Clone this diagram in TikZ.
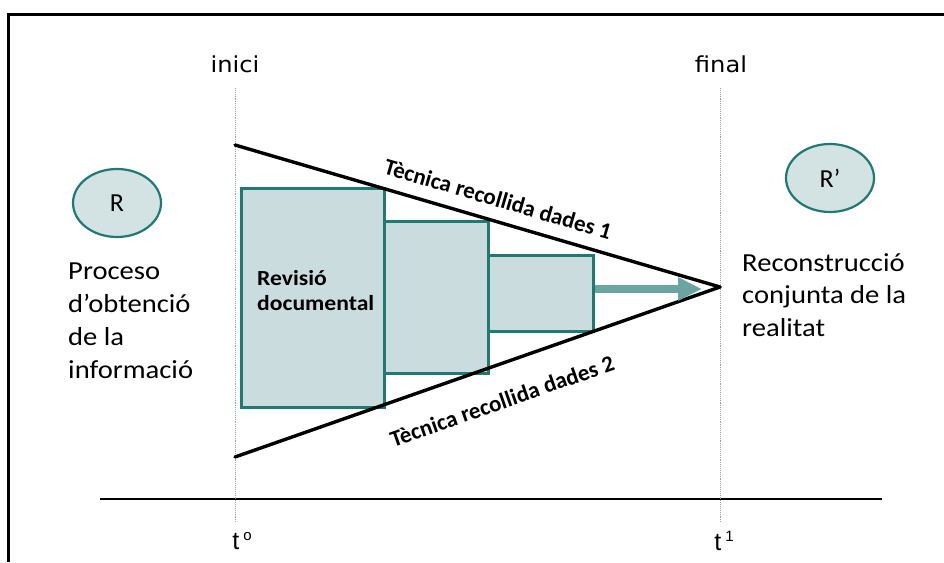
\documentclass[tikz,border=0pt]{standalone}
\usepackage{fontspec}
\setmainfont{Carlito}
\newfontfamily\dejavu{DejaVu Sans}
\newfontfamily\arialfont{Liberation Sans}
\usetikzlibrary{shapes.geometric,arrows.meta}
\definecolor{tealline}{HTML}{1E7A72}
\definecolor{boxfill}{HTML}{CBDCDF}
\definecolor{ovalfill}{HTML}{D3E2E3}
\definecolor{arrowcol}{HTML}{6CA4A2}
\begin{document}
\begin{tikzpicture}[x=1pt,y=-1pt,
  frame/.style={line width=3pt, black},
  timeline/.style={draw=gray!75, line width=0.9pt, densely dotted},
  axis/.style={line width=2.4pt, black},
  edge/.style={line width=3.4pt, black, line cap=round},
  stage/.style={draw=tealline, fill=boxfill, line width=2.6pt, inner sep=0pt, anchor=north west},
  oval/.style={ellipse, draw=tealline, fill=ovalfill, line width=2.2pt,
               minimum width=88pt, minimum height=68pt, inner sep=0pt,
               font=\fontsize{26}{26}\selectfont},
  bodytext/.style={align=left, inner sep=0pt, xscale=1.1},
  endlabel/.style={font=\dejavu\fontsize{22}{22}\selectfont, inner sep=0pt, xscale=1.1},
  timelabel/.style={font=\arialfont\fontsize{25}{25}\selectfont, inner sep=0pt},
  technique/.style={font=\bfseries\fontsize{23}{23}\selectfont, inner sep=0pt},
  flow/.style={arrowcol, line width=8pt, -{Triangle[length=24pt,width=22pt]}}
]
\useasboundingbox (0,0) rectangle (944,562);

% outer frame
\draw[frame] (944,14) -- (8,14) -- (8,562);

% time axis and the two reference instants
\coordinate (axl) at (100,499);
\coordinate (axr) at (882,499);
\draw[axis] (axl) -- (axr);

\coordinate (startTop) at (235,88);
\coordinate (startBot) at (235,523);
\coordinate (endTop) at (720,88);
\coordinate (endBot) at (720,523);
\draw[timeline] (startTop) -- (startBot);
\draw[timeline] (endTop) -- (endBot);

\node[endlabel] (inici) at (235,64) {inici};
\node[endlabel] (final) at (721,64) {final};
\node[timelabel] (t0) at (242,541) {t\hspace{4pt}\raisebox{9pt}{\fontsize{15}{15}\selectfont o}};
\node[timelabel] (t1) at (724,541) {t\hspace{4pt}\raisebox{9pt}{\fontsize{15}{15}\selectfont 1}};

% converging funnel
\coordinate (tl) at (235,145);
\coordinate (bl) at (235,457);
\coordinate (apex) at (720,287);

% stages of the information gathering
\node[stage, minimum width=143pt, minimum height=219pt] (s1) at (240,187) {};
\node[stage, minimum width=104pt, minimum height=152pt] (s2) at (383,220) {};
\node[stage, minimum width=105pt, minimum height=76pt] (s3) at (487,254) {};

\node[font=\bfseries\fontsize{21.5}{25}\selectfont, align=left, anchor=west, inner sep=0pt, xscale=1.1]
  (rev) at (257,291) {Revisió\\documental};

\draw[edge] (tl) -- (apex);
\draw[edge] (bl) -- (apex);
\node[technique, rotate=-16.3] (tec1) at (498,199) {Tècnica recollida dades 1};
\node[technique, rotate=19.3] (tec2) at (502,401) {Tècnica recollida dades 2};

\coordinate (tip) at (702,289);
\draw[flow] (s3.east |- tip) -- (tip);

% reality before and after
\node[oval] (R) at (117,203) {R};
\node[oval] (Rp) at (830,178) {R’};

\node[bodytext, anchor=west, font=\fontsize{26}{33}\selectfont] (proc) at (68,321)
  {Proceso\\d’obtenció\\de la\\informació};
\node[bodytext, anchor=west, font=\fontsize{26}{32.5}\selectfont] (recon) at (742,295)
  {Reconstrucció\\conjunta de la\\realitat};
\end{tikzpicture}
\end{document}
